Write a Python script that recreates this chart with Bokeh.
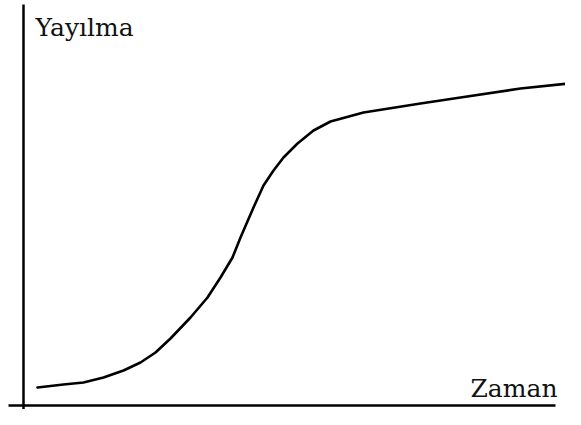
from bokeh.plotting import figure
from bokeh.models import Range1d, Label
from bokeh.embed import file_html
from bokeh.resources import INLINE

# S-curve (diffusion): time vs spread
zaman = [14, 40, 60, 80, 100, 117, 132, 147, 167, 184, 197, 209, 217, 230, 240, 250,
         260, 274, 290, 307, 340, 397, 437, 497, 555]
yayilma = [18, 21, 23, 28, 35, 43, 53, 67, 88, 108, 128, 148, 168, 198, 220, 235,
           248, 262, 275, 284, 293, 302, 308, 317, 323]

y_label = "Yayılma"
x_label = "Zaman"

p = figure(width=565, height=409, output_backend="svg", toolbar_location=None,
           x_range=Range1d(-23, 542), y_range=Range1d(-4, 405),
           min_border=0, outline_line_color=None)
p.axis.visible = False
p.grid.visible = False
p.background_fill_color = "white"
p.border_fill_color = "white"

# axes lines
p.line(x=[0, 0], y=[-15, 401], line_color="black", line_width=2.5)
p.line(x=[-15, 532], y=[0, 0], line_color="black", line_width=2.5)

p.line(x=zaman, y=yayilma, line_color="black", line_width=2.6, line_join="round", line_cap="round")

for txt, xx, yy in [(y_label, 12, 378), (x_label, 447, 17)]:
    p.add_layout(Label(x=xx, y=yy, text=txt, text_font="DejaVu Serif",
                       text_font_size="25px", text_color="#111111",
                       text_baseline="alphabetic", text_align="left"))

open("out.html", "w").write(file_html(p, INLINE))
